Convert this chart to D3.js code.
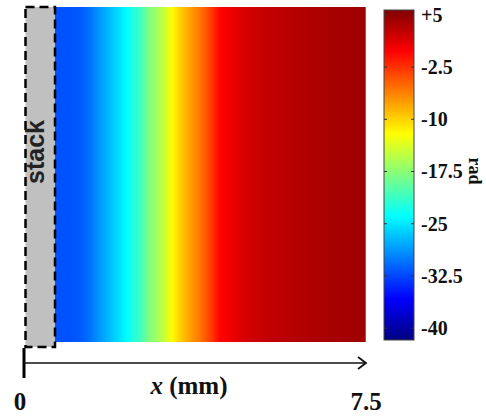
<!DOCTYPE html>
<html>
<head>
<meta charset="utf-8">
<script src="https://cdn.jsdelivr.net/npm/d3@7"></script>
<style>
  body { margin: 0; background: #fff; }
  svg text { font-family: "Liberation Serif", "Times New Roman", serif; font-weight: bold; fill: #111; }
</style>
</head>
<body>
<div id="chart"></div>
<script>
// phase profile across the field (x in mm, phase in rad)
const posMM = [0.68, 1.0, 1.25, 1.45, 1.65, 1.95, 2.25, 2.55, 2.75, 3.05, 3.25, 3.45, 3.65, 3.85, 4.1, 4.3, 4.65, 4.95, 5.4, 6.05, 6.8, 7.45];
const phase = [-32, -32, -31.5, -30.5, -28.8, -26.5, -24, -21, -18, -15, -12, -9.5, -7.6, -5.8, -3, -0.3, 1, 1.9, 2.6, 3.3, 3.9, 4.2];

const cbarTicks = [5, -2.5, -10, -17.5, -25, -32.5, -40];
const cbarLabels = ['+5', '-2.5', '-10', '-17.5', '-25', '-32.5', '-40'];
const axisTicks = [0, 7.5];
const axisLabels = ['0', '7.5'];

const width = 486, height = 419;
const vmin = -41.7, vmax = 5.7;

const svg = d3.select('#chart').append('svg')
  .attr('width', width)
  .attr('height', height);

// jet colormap
const jetT = [0, 0.125, 0.375, 0.625, 0.875, 1];
const jetC = ['#000080', '#0000ff', '#00ffff', '#ffff00', '#ff0000', '#800000'];
const color = d3.scaleLinear()
  .domain(jetT.map(t => vmin + t * (vmax - vmin)))
  .range(jetC)
  .clamp(true);

const x = d3.scaleLinear().domain([0, 7.5]).range([24, 366]);
const fieldTop = 7, fieldBottom = 342;

const defs = svg.append('defs');

// field gradient built from the profile
const x0 = x(posMM[0]), x1 = x(posMM[posMM.length - 1]);
const fieldGrad = defs.append('linearGradient')
  .attr('id', 'field')
  .attr('gradientUnits', 'userSpaceOnUse')
  .attr('x1', x0).attr('x2', x1)
  .attr('y1', 0).attr('y2', 0);
fieldGrad.selectAll('stop')
  .data(posMM)
  .enter().append('stop')
  .attr('offset', d => (x(d) - x0) / (x1 - x0))
  .attr('stop-color', (d, i) => color(phase[i]));

svg.append('rect')
  .attr('x', x0)
  .attr('y', fieldTop)
  .attr('width', x1 - x0 + 2)
  .attr('height', fieldBottom - fieldTop)
  .attr('fill', 'url(#field)');

// stack block
svg.append('rect')
  .attr('x', 25.5)
  .attr('y', fieldTop)
  .attr('width', x0 - 25.5)
  .attr('height', 340)
  .attr('fill', '#c0c0c0')
  .attr('stroke', '#000')
  .attr('stroke-width', 2.5)
  .attr('stroke-dasharray', '9,5');

svg.append('text')
  .attr('transform', 'translate(44,152) rotate(-90)')
  .attr('text-anchor', 'middle')
  .style('font-family', '"Liberation Sans", Arial, sans-serif')
  .style('font-size', '25px')
  .style('fill', '#222')
  .text('stack');

// x axis arrow
svg.append('line')
  .attr('x1', x(0)).attr('x2', x(0))
  .attr('y1', 348).attr('y2', 378)
  .attr('stroke', '#000').attr('stroke-width', 3);

svg.append('line')
  .attr('x1', x(0)).attr('x2', x(7.5))
  .attr('y1', 363).attr('y2', 363)
  .attr('stroke', '#111').attr('stroke-width', 1.5);

svg.append('path')
  .attr('d', `M${x(7.5) - 8},${357} L${x(7.5)},${363} L${x(7.5) - 8},${369}`)
  .attr('fill', 'none')
  .attr('stroke', '#111')
  .attr('stroke-width', 1.8);

svg.selectAll('.xlab')
  .data(axisTicks)
  .enter().append('text')
  .attr('class', 'xlab')
  .attr('x', (d, i) => x(d) + (i === 0 ? -4 : 0))
  .attr('y', 410)
  .attr('text-anchor', 'middle')
  .style('font-size', '25px')
  .text((d, i) => axisLabels[i]);

const xt = svg.append('text')
  .attr('x', 189)
  .attr('y', 394)
  .attr('text-anchor', 'middle')
  .style('font-size', '25px');
xt.append('tspan').style('font-style', 'italic').text('x');
xt.append('tspan').text(' (mm)');

// colorbar
const cb = { x: 384, w: 30, top: 10, bottom: 340 };
const cy = d3.scaleLinear().domain([vmin, vmax]).range([cb.bottom, cb.top]);

const cbGrad = defs.append('linearGradient')
  .attr('id', 'cbar')
  .attr('x1', 0).attr('x2', 0)
  .attr('y1', 1).attr('y2', 0);
cbGrad.selectAll('stop')
  .data(jetT)
  .enter().append('stop')
  .attr('offset', d => d)
  .attr('stop-color', (d, i) => jetC[i]);

svg.append('rect')
  .attr('x', cb.x)
  .attr('y', cb.top)
  .attr('width', cb.w)
  .attr('height', cb.bottom - cb.top)
  .attr('fill', 'url(#cbar)')
  .attr('stroke', '#444')
  .attr('stroke-width', 1);

const cAxis = svg.append('g')
  .attr('transform', `translate(${cb.x + cb.w},0)`)
  .call(d3.axisRight(cy)
    .tickValues(cbarTicks)
    .tickSize(0)
    .tickPadding(7)
    .tickFormat((d, i) => cbarLabels[i]));
cAxis.select('.domain').remove();
cAxis.selectAll('text')
  .attr('fill', '#111')
  .style('font-size', '20px')
  .style('font-family', '"Liberation Serif", "Times New Roman", serif')
  .style('font-weight', 'bold');

// small tick marks on both edges of the bar
svg.selectAll('.ctick')
  .data(cbarTicks)
  .enter().append('path')
  .attr('class', 'ctick')
  .attr('d', d => `M${cb.x},${cy(d)}h3M${cb.x + cb.w},${cy(d)}h-3`)
  .attr('stroke', '#333')
  .attr('stroke-width', 1);

svg.append('text')
  .attr('transform', 'translate(469,171) rotate(90)')
  .attr('text-anchor', 'middle')
  .style('font-size', '18px')
  .text('rad');
</script>
</body>
</html>
